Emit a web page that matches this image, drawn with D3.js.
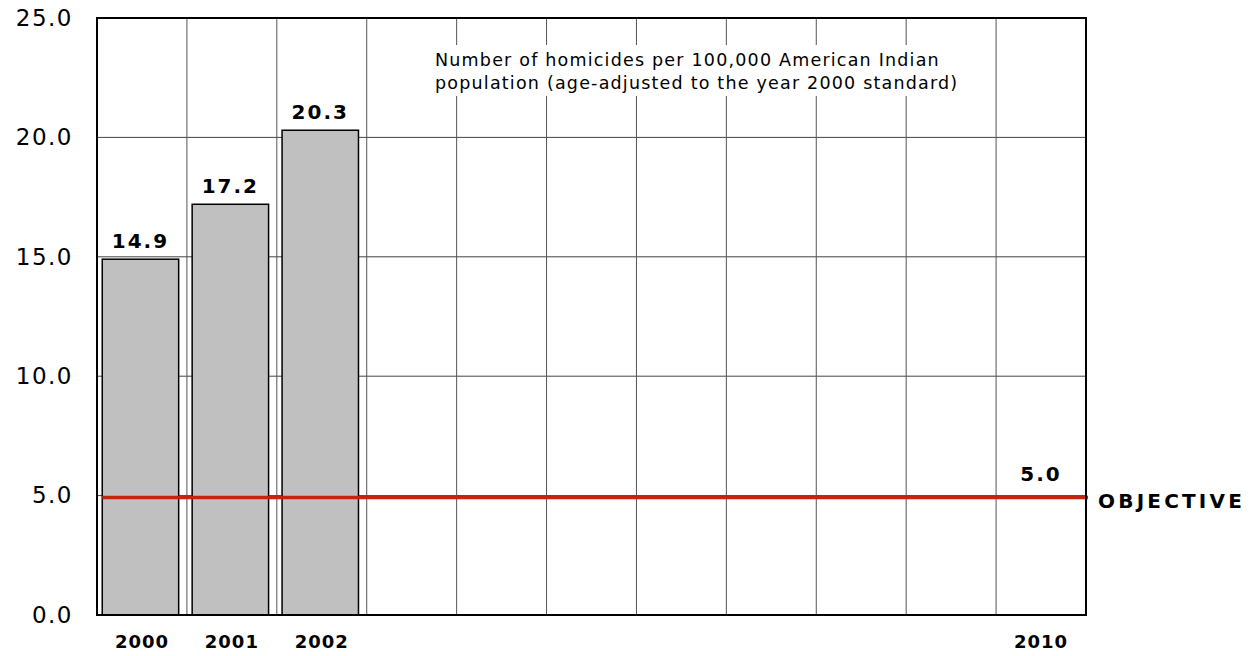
<!DOCTYPE html>
<html>
<head>
<meta charset="utf-8">
<script src="https://cdn.jsdelivr.net/npm/d3@7"></script>
<style>
  body { margin: 0; background: #fff; }
  svg { display: block; font-family: "DejaVu Sans", Verdana, sans-serif; }
</style>
</head>
<body>
<div id="main"></div>
<script>
// ===================== data =====================
const years = ["2000","2001","2002","2003","2004","2005","2006","2007","2008","2009","2010"];
const yearLabels = ["2000","2001","2002","","","","","","","","2010"];
const barYears = ["2000","2001","2002"];
const barValues = [14.9, 17.2, 20.3];
const objective = 5.0;
const objectiveYear = "2010";
const yTicks = [0, 5, 10, 15, 20, 25];
const noteLines = ["Number of homicides per 100,000 American Indian",
                   "population (age-adjusted to the year 2000 standard)"];

// ===================== layout =====================
const W = 1251, H = 656;
const plot = { left: 97, right: 1086, top: 18, bottom: 615 };

const svg = d3.select('#main').append('svg')
    .attr('width', W)
    .attr('height', H);

const x = d3.scaleBand()
    .domain(years)
    .range([plot.left, plot.right]);

const y = d3.scaleLinear()
    .domain([0, 25])
    .range([plot.bottom, plot.top]);

// horizontal grid
svg.append('g').selectAll('line')
    .data(yTicks.filter(d => d > 0 && d < 25))
    .enter().append('line')
    .attr('x1', plot.left).attr('x2', plot.right)
    .attr('y1', d => y(d)).attr('y2', d => y(d))
    .attr('stroke', '#444').attr('stroke-width', 1);

// vertical grid at category boundaries
svg.append('g').selectAll('line')
    .data(years.slice(1))
    .enter().append('line')
    .attr('x1', d => x(d)).attr('x2', d => x(d))
    .attr('y1', plot.top).attr('y2', plot.bottom)
    .attr('stroke', '#555').attr('stroke-width', 1);

// note box (white behind text, covers grid)
const note = svg.append('g');
note.append('rect')
    .attr('x', 428).attr('y', 45)
    .attr('width', 540).attr('height', 51)
    .attr('fill', '#fff');
note.selectAll('text')
    .data(noteLines)
    .enter().append('text')
    .attr('x', 435)
    .attr('y', (d, i) => 66 + i * 23)
    .attr('font-size', 17.5)
    .attr('letter-spacing', 1.2)
    .attr('fill', '#000')
    .text(d => d);

// bars
const barW = x.bandwidth() * 0.85;
svg.append('g').selectAll('rect')
    .data(barValues)
    .enter().append('rect')
    .attr('x', (d, i) => x(barYears[i]) + x.bandwidth() / 2 - barW / 2 - 1.5)
    .attr('y', d => y(d))
    .attr('width', barW)
    .attr('height', d => y(0) - y(d))
    .attr('fill', '#c0c0c0')
    .attr('stroke', '#000')
    .attr('stroke-width', 1.5);

// bar value labels
svg.append('g').selectAll('text')
    .data(barValues)
    .enter().append('text')
    .attr('x', (d, i) => x(barYears[i]) + x.bandwidth() / 2 - 1.5)
    .attr('y', d => y(d) - 11)
    .attr('text-anchor', 'middle')
    .attr('font-size', 20)
    .attr('font-weight', 'bold')
    .attr('letter-spacing', 2)
    .text(d => d.toFixed(1));

// objective line
const objStart = x(barYears[0]) + x.bandwidth() / 2 - barW / 2 - 1.5;
svg.append('line')
    .attr('x1', objStart).attr('x2', plot.right + 2)
    .attr('y1', y(objective) + 2).attr('y2', y(objective) + 2)
    .attr('stroke', '#c0260a')
    .attr('stroke-width', 3.5);

svg.append('text')
    .attr('x', x(objectiveYear) + x.bandwidth() / 2)
    .attr('y', y(objective) - 15)
    .attr('text-anchor', 'middle')
    .attr('font-size', 20)
    .attr('font-weight', 'bold')
    .attr('letter-spacing', 2)
    .text(objective.toFixed(1));

svg.append('text')
    .attr('x', plot.right + 12)
    .attr('y', y(objective) + 12)
    .attr('font-size', 20)
    .attr('font-weight', 'bold')
    .attr('letter-spacing', 3.2)
    .text('OBJECTIVE');

// frame
svg.append('rect')
    .attr('x', plot.left).attr('y', plot.top)
    .attr('width', plot.right - plot.left)
    .attr('height', plot.bottom - plot.top)
    .attr('fill', 'none')
    .attr('stroke', '#000')
    .attr('stroke-width', 2);

// y axis labels
const yAxis = d3.axisLeft(y)
    .tickValues(yTicks)
    .tickSize(0)
    .tickPadding(24)
    .tickFormat(d3.format('.1f'));
const gy = svg.append('g')
    .attr('transform', 'translate(' + plot.left + ',0)')
    .call(yAxis);
gy.select('.domain').remove();
gy.selectAll('text')
    .attr('font-family', '"DejaVu Sans", Verdana, sans-serif')
    .attr('font-size', 23)
    .attr('letter-spacing', 1.5)
    .attr('fill', '#000');

// x axis labels
const xAxis = d3.axisBottom(x)
    .tickSize(0)
    .tickPadding(20)
    .tickFormat((d, i) => yearLabels[i]);
const gx = svg.append('g')
    .attr('transform', 'translate(0,' + plot.bottom + ')')
    .call(xAxis);
gx.select('.domain').remove();
gx.selectAll('text')
    .attr('font-family', '"DejaVu Sans", Verdana, sans-serif')
    .attr('font-size', 18)
    .attr('font-weight', 'bold')
    .attr('letter-spacing', 1)
    .attr('fill', '#000');
</script>
</body>
</html>
